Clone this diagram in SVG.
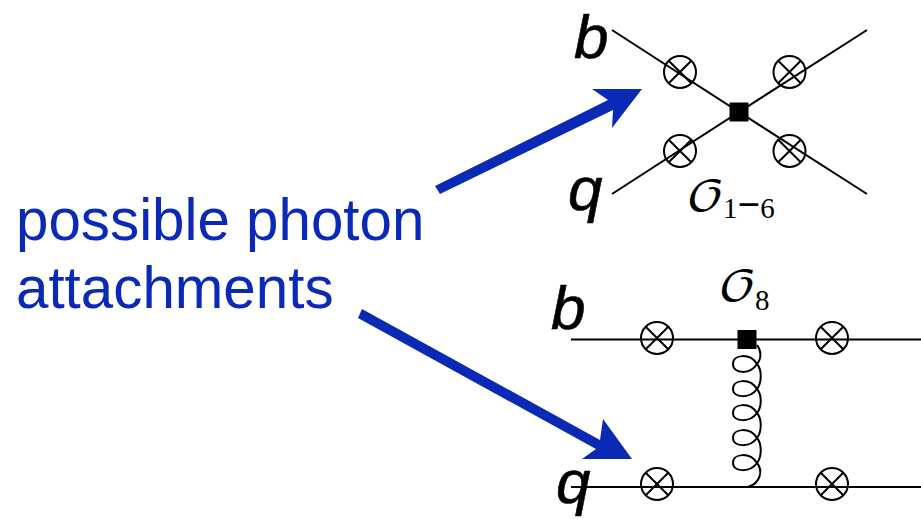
<svg xmlns="http://www.w3.org/2000/svg" width="921" height="519" viewBox="0 0 921 519">
<style>
.l{fill:none;stroke:#000;stroke-width:2}
.c{fill:none;stroke:#000;stroke-width:2}
.s{fill:#000}
.a{fill:#0a29b4}
.t{font-family:"Liberation Sans",Arial,sans-serif;font-size:58.3px;fill:#0a29b8}
.v{font-family:"Liberation Sans",Arial,sans-serif;font-style:italic;font-size:62px;fill:#000;stroke:#000;stroke-width:.6}
.o{font-family:"DejaVu Math TeX Gyre","DejaVu Serif",serif;font-size:41px;fill:#000}
.n{font-family:"Liberation Serif","Times New Roman",serif;font-size:29px;fill:#000}
.m{font-size:40px;font-weight:bold}
</style>
<defs>
<g id="x"><circle class="c" r="16"/><path class="c" d="M-11.300-11.300L11.300 11.300M-11.300 11.300L11.300-11.300"/></g>
</defs>
<rect width="921" height="519" fill="#fff"/>
<g id="connectors">
<path class="l" d="M612 30L739 112L867 30M612 194L739 112L867 194"/>
<path class="l" d="M571 339.500H921M571 487H921"/>
<path class="l" d="M757 345C761 350 762 358 757 364C750 375 733 374 733 364C733 354 750 353 757 364C762 370 762 382 757 389C750 399 733 398 733 389C733 379 750 378 757 389C762 395 762 407 757 413C750 423 733 422 733 413C733 403 750 402 757 413C762 419 762 431 757 438C750 448 733 447 733 438C733 428 750 427 757 438C762 444 762 456 757 463C750 473 733 472 733 463C733 453 750 452 757 463C763 470 761 483 748 487"/>
<path class="a" d="M435 186L608 100L592 89H642L612 128L613 110L440 194Z"/>
<path class="a" d="M362 309L600 440L603 419L632 459H582L596 449L358 318Z"/>
</g>
<g id="label-photon"><text class="t" x="16" y="240">possible photon</text><text class="t" x="16" y="308">attachments</text></g>
<g id="top-b"><text class="v" x="574" y="58">b</text></g>
<g id="top-q"><text class="v" x="568" y="210">q</text></g>
<g id="bottom-b"><text class="v" x="551" y="329">b</text></g>
<g id="bottom-q"><text class="v" x="556" y="503">q</text></g>
<g id="top-vertex"><rect class="s" x="729.500" y="102.500" width="19" height="19"/></g>
<g id="bottom-vertex"><rect class="s" x="737.500" y="330" width="19" height="19"/></g>
<g id="t1"><use href="#x" x="680" y="72"/></g>
<g id="t2"><use href="#x" x="789.500" y="72"/></g>
<g id="t3"><use href="#x" x="680" y="151"/></g>
<g id="t4"><use href="#x" x="789.500" y="151"/></g>
<g id="b1"><use href="#x" x="657" y="338"/></g>
<g id="b2"><use href="#x" x="832" y="338"/></g>
<g id="b3"><use href="#x" x="657" y="484"/></g>
<g id="b4"><use href="#x" x="832" y="484"/></g>
<g id="op1"><text class="o" transform="translate(686 211) scale(1.2 1)">𝒪</text><text class="n" x="723" y="218">1<tspan class="m">−</tspan>6</text></g>
<g id="op8"><text class="o" transform="translate(718 301) scale(1.2 1)">𝒪</text><text class="n" x="755" y="310">8</text></g>
</svg>
